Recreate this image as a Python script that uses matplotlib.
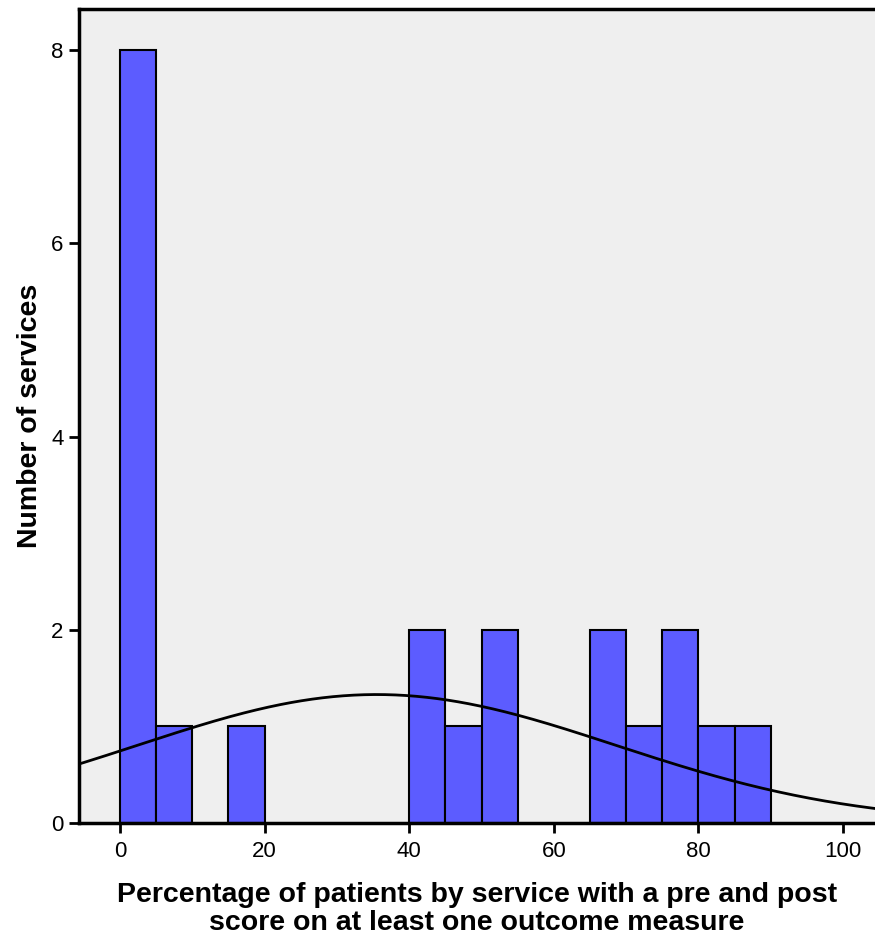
import numpy as np
import matplotlib
matplotlib.use("Agg")
import matplotlib.pyplot as plt

# Histogram bins (percentage, width 5) and number of services in each
bin_edges = [0, 5, 10, 15, 20, 25, 30, 35, 40, 45, 50, 55, 60, 65, 70, 75, 80, 85, 90]
counts = [8, 1, 0, 1, 0, 0, 0, 0, 2, 1, 2, 0, 0, 2, 1, 2, 1, 1]

# Fitted normal curve parameters
mean_pct = 35.5
sd_pct = 33.0

x_ticks = [0, 20, 40, 60, 80, 100]
y_ticks = [0, 2, 4, 6, 8]

plt.rcParams['font.family'] = ['Liberation Sans', 'DejaVu Sans']

fig = plt.figure(figsize=(8.75, 9.4), dpi=100)
ax = fig.add_axes([79 / 875, 1 - 823 / 940, 1 - 79 / 875, (823 - 9) / 940])
ax.set_facecolor('#efefef')

lefts = np.array(bin_edges[:-1])
widths = np.diff(bin_edges)
counts_arr = np.array(counts)
mask = counts_arr > 0
ax.bar(lefts[mask], counts_arr[mask], width=widths[mask], align='edge',
       color='#5c5cff', edgecolor='black', linewidth=1.5, zorder=2)

n_total = counts_arr.sum()
bw = widths[0]
xs = np.linspace(-10, 110, 500)
ys = n_total * bw / (sd_pct * np.sqrt(2 * np.pi)) * np.exp(-0.5 * ((xs - mean_pct) / sd_pct) ** 2)
ax.plot(xs, ys, color='black', linewidth=2, zorder=3)

ax.set_xlim((79 - 120) / 7.23, (875 - 120) / 7.23)
ax.set_ylim(0, (823 - 9) / 96.6)
ax.set_xticks(x_ticks)
ax.set_yticks(y_ticks)
ax.tick_params(axis='both', length=7, width=2, labelsize=16, pad=4)
ax.tick_params(axis='x', pad=6)

for side in ['left', 'top', 'bottom']:
    ax.spines[side].set_linewidth(2.5)
ax.spines['right'].set_visible(False)

ax.set_xlabel('Percentage of patients by service with a pre and post\nscore on at least one outcome measure',
              fontsize=20.5, fontweight='bold', linespacing=1.1, labelpad=14)
ax.set_ylabel('Number of services', fontsize=20.5, fontweight='bold', labelpad=6)

fig.savefig('out.png', dpi=100)
